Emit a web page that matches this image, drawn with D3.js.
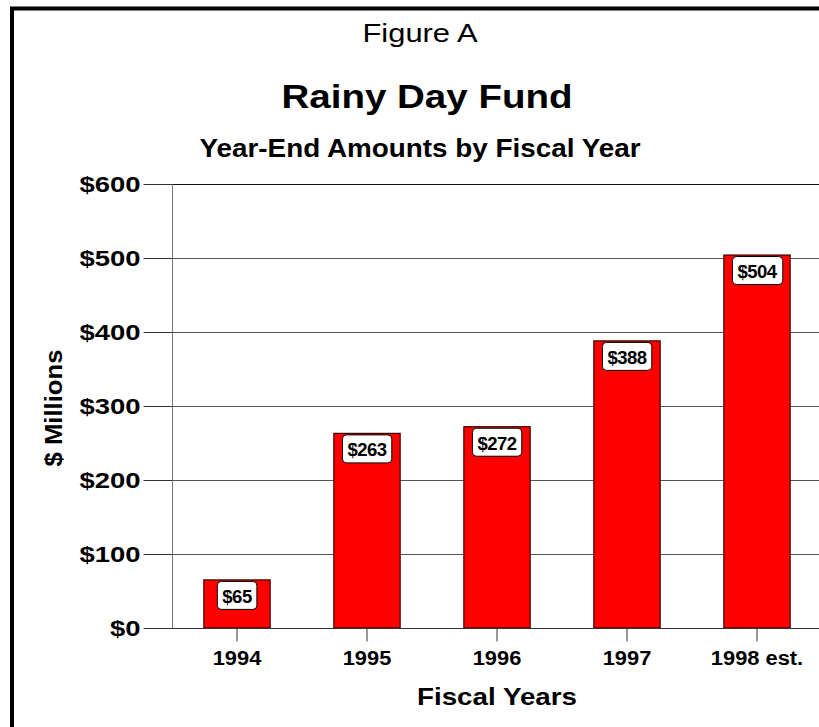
<!DOCTYPE html>
<html>
<head>
<meta charset="utf-8">
<script src="https://cdn.jsdelivr.net/npm/d3@7.9.0/dist/d3.min.js"></script>
<style>
  body { margin: 0; background: #fff; }
  svg { display: block; font-family: "Liberation Sans", Arial, sans-serif; }
</style>
</head>
<body>
<svg id="chart" width="819" height="727"></svg>
<script>
// chart data
const years = ['1994', '1995', '1996', '1997', '1998 est.'];
const amounts = [65, 263, 272, 388, 504];
const yTicks = [0, 100, 200, 300, 400, 500, 600];

const svg = d3.select('#chart');

// widen glyphs a bit, the original uses a broad Arial-like face
function stretch(sel, k) {
  sel.each(function () {
    const w = this.getComputedTextLength();
    d3.select(this).attr('textLength', w * k).attr('lengthAdjust', 'spacingAndGlyphs');
  });
}

// frame
svg.append('rect')
  .attr('x', 12).attr('y', 8.5)
  .attr('width', 830).attr('height', 740)
  .attr('fill', 'none').attr('stroke', '#000').attr('stroke-width', 4);

const x = d3.scaleBand()
  .domain(years)
  .range([172, 822])
  .paddingInner(0.49)
  .paddingOuter(0.245);

const y = d3.scaleLinear()
  .domain([0, 600])
  .range([628, 184]);

// gridlines
svg.append('g')
  .selectAll('line')
  .data(yTicks.filter(d => d > 0))
  .join('line')
  .attr('x1', 172).attr('x2', 819)
  .attr('y1', d => Math.round(y(d)) + 0.5).attr('y2', d => Math.round(y(d)) + 0.5)
  .attr('stroke', d => d === 600 ? '#111' : '#555')
  .attr('stroke-width', 1);

// y axis
const yAxis = svg.append('g')
  .attr('transform', 'translate(172.5,0)')
  .call(d3.axisLeft(y).tickValues(yTicks).tickSize(29).tickPadding(3)
    .tickFormat(d => '$' + d));
yAxis.select('.domain').attr('stroke', '#777').attr('d', `M0,${y(600)}V${y(0)}`);
yAxis.selectAll('.tick line').attr('stroke', '#333');
yAxis.selectAll('.tick text')
  .attr('font-size', 22.5).attr('font-weight', 'bold').attr('fill', '#000')
  .attr('font-family', '"Liberation Sans", Arial, sans-serif')
  .call(stretch, 1.22);

// bars
svg.append('g')
  .selectAll('rect')
  .data(amounts)
  .join('rect')
  .attr('x', (d, i) => x(years[i]))
  .attr('y', d => y(d))
  .attr('width', x.bandwidth())
  .attr('height', d => y(0) - y(d))
  .attr('fill', '#ff0000')
  .attr('stroke', '#3a0000')
  .attr('stroke-width', 1.2);

// x axis
const xAxis = svg.append('g')
  .attr('transform', 'translate(0,628.5)')
  .call(d3.axisBottom(x).tickSize(13).tickPadding(10));
xAxis.select('.domain').attr('stroke', '#333').attr('d', 'M155,0H819');
xAxis.selectAll('.tick line').attr('stroke', '#333');
xAxis.selectAll('.tick text')
  .attr('font-size', 19.5).attr('font-weight', 'bold').attr('fill', '#000')
  .attr('font-family', '"Liberation Sans", Arial, sans-serif')
  .call(stretch, 1.12);

// value labels
const labels = svg.append('g')
  .selectAll('g')
  .data(amounts)
  .join('g')
  .attr('transform', (d, i) => `translate(${x(years[i]) + x.bandwidth() / 2},${y(d) + 1})`);

labels.append('text')
  .attr('text-anchor', 'middle')
  .attr('y', 22)
  .attr('font-size', 18.5)
  .attr('font-weight', 'bold')
  .attr('letter-spacing', -0.5)
  .text(d => '$' + d)
  .each(function () {
    const bb = this.getBBox();
    d3.select(this.parentNode).insert('rect', 'text')
      .attr('x', bb.x - 5).attr('y', 0.5)
      .attr('width', bb.width + 10).attr('height', 28)
      .attr('rx', 4)
      .attr('fill', '#fff').attr('stroke', '#000').attr('stroke-width', 1);
  });

// titles
function title(txt, cx, cy, size, width, weight) {
  return svg.append('text').attr('x', cx).attr('y', cy)
    .attr('text-anchor', 'middle').attr('font-size', size)
    .attr('font-weight', weight)
    .attr('textLength', width).attr('lengthAdjust', 'spacingAndGlyphs')
    .text(txt);
}
title('Figure A', 420, 42, 26, 115, 'normal');
title('Rainy Day Fund', 427, 108, 33, 291, 'bold');
title('Year-End Amounts by Fiscal Year', 420, 157, 25.5, 441, 'bold');
title('Fiscal Years', 497, 705, 24, 160, 'bold');

svg.append('text')
  .attr('transform', 'translate(62,408) rotate(-90)')
  .attr('text-anchor', 'middle').attr('font-size', 24).attr('font-weight', 'bold')
  .attr('textLength', 117).attr('lengthAdjust', 'spacingAndGlyphs')
  .text('$ Millions');
</script>
</body>
</html>
